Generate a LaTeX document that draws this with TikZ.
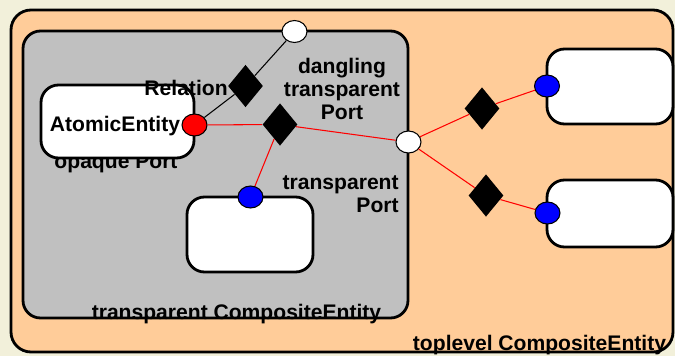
\documentclass[tikz,border=0pt]{standalone}
\usepackage{fontspec}
\setmainfont{Liberation Sans}
\usetikzlibrary{shapes.geometric}

\definecolor{paper}{HTML}{F2F0DA}
\definecolor{toplevel}{HTML}{FFCC99}
\definecolor{composite}{HTML}{C0C0C0}

\tikzset{
  entity/.style={draw, line width=1.6pt, fill=white, rounded corners=0.35cm},
  port/.style={ellipse, draw, line width=0.6pt, minimum width=0.5cm, minimum height=0.44cm, inner sep=0pt},
  relation/.style={diamond, fill=black, minimum width=0.7cm, minimum height=0.85cm, inner sep=0pt},
  txt/.style={font=\bfseries\fontsize{12}{13}\selectfont, inner sep=0pt},
  link/.style={line width=0.6pt}
}

\begin{document}
\begin{tikzpicture}
\fill[paper] (0,0) rectangle (13.5,-7.12);
\useasboundingbox (0,0) rectangle (13.5,-7.12);

% containers
\draw[fill=toplevel, line width=1.6pt, rounded corners=0.4cm] (0.22,-0.20) rectangle (13.46,-7.04);
\draw[fill=composite, line width=1.6pt, rounded corners=0.35cm] (0.46,-0.62) rectangle (8.16,-6.36);

\node[txt] (opaquelbl) at (2.32,-3.26) {opaque Port};
\draw[entity] (0.82,-1.70) rectangle (3.88,-3.16);
\draw[entity] (3.74,-3.94) rectangle (6.26,-5.44);
\draw[entity] (10.94,-0.98) rectangle (13.46,-2.48);
\draw[entity] (10.94,-3.60) rectangle (13.46,-4.94);

\node[txt] (atomic) at (2.30,-2.52) {AtomicEntity};
\node[txt, anchor=east] (rellbl) at (4.56,-1.76) {Relation};
\node[txt, align=center] (danglbl) at (6.84,-1.78) {dangling\\transparent\\Port};
\node[txt, align=right, anchor=east] (translbl) at (7.98,-3.88) {transparent\\Port};
\node[txt] (complbl) at (4.73,-6.28) {transparent CompositeEntity};
\node[txt] (toplbl) at (10.79,-6.90) {toplevel CompositeEntity};

% ports
\node[port, fill=red] (opaque) at (3.89,-2.50) {};
\node[port, fill=white] (dangling) at (5.89,-0.63) {};
\node[port, fill=white] (outer) at (8.17,-2.84) {};
\node[port, fill=blue] (inner) at (5.01,-3.94) {};
\node[port, fill=blue] (topright) at (10.94,-1.72) {};
\node[port, fill=blue] (botright) at (10.95,-4.26) {};

% relations
\node[relation] (relA) at (4.91,-1.72) {};
\node[relation] (relB) at (5.60,-2.49) {};
\node[relation] (relC) at (9.64,-2.17) {};
\node[relation] (relD) at (9.72,-3.91) {};

\draw[link] (opaque) -- (relA) -- (dangling);
\draw[link, red] (opaque) -- (relB) -- (outer);
\draw[link, red] (relB) -- (inner);
\draw[link, red] (outer) -- (relC) -- (topright);
\draw[link, red] (outer) -- (relD) -- (botright);

\end{tikzpicture}
\end{document}
